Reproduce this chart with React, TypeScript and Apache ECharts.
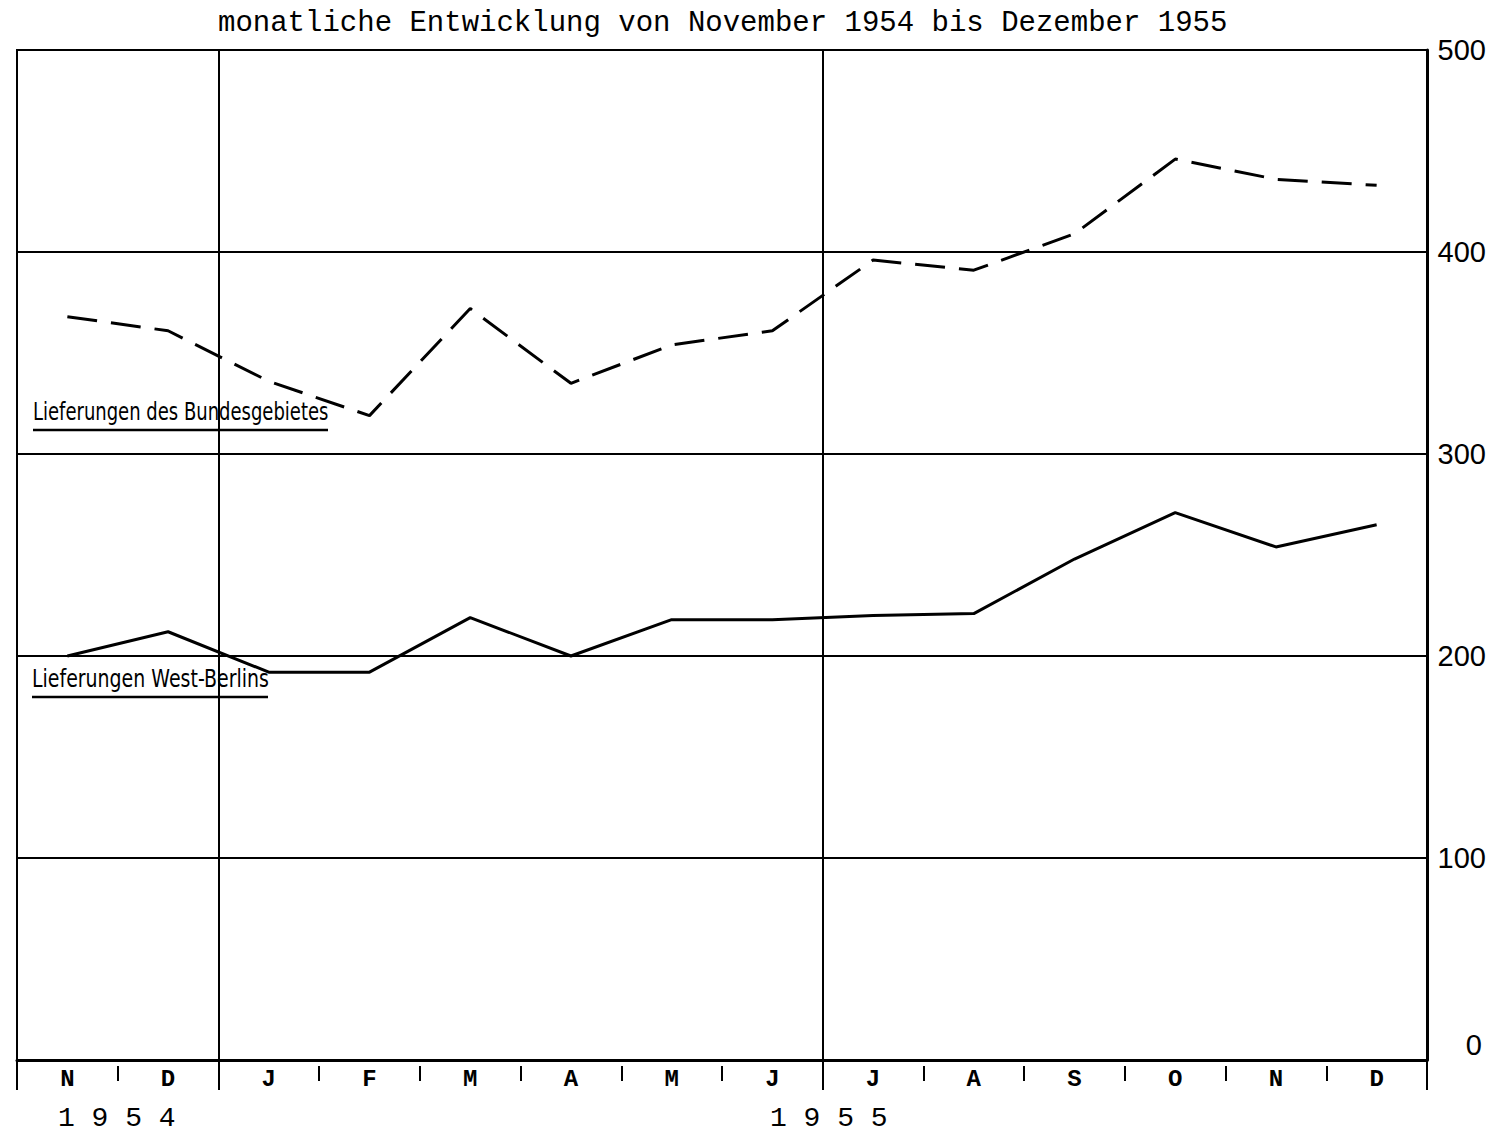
import React, { useEffect, useRef } from "react";
import * as echarts from "echarts";

const monthKeys = ["N54", "D54", "J55", "F55", "M55", "A55", "M55b", "J55b", "J55c", "A55b", "S55", "O55", "N55", "D55"];
const bundesgebiet = [368, 361, 336, 319, 372, 335, 354, 361, 396, 391, 409, 446, 436, 433];
const westBerlin = [200, 212, 192, 192, 219, 200, 218, 218, 220, 221, 248, 271, 254, 265];
const yTicks = { min: 0, max: 500, interval: 100 };
const titleText = "monatliche Entwicklung von November 1954 bis Dezember 1955";
const labelBund = "Lieferungen des Bundesgebietes";
const labelBerlin = "Lieferungen West-Berlins";
const yearLabels = ["1 9 5 4", "1 9 5 5"];
const longTickIdx = [0, 2, 8, 14];
const yearSplitIdx = [2, 8];

export default function App() {
  const ref = useRef<HTMLDivElement>(null);
  useEffect(() => {
    if (!ref.current) return;
    const chart = echarts.init(ref.current, null, { renderer: "svg" });
    const mono = "Liberation Mono";
    const narrow = "DejaVu Sans";
    chart.setOption({
      animation: false,
      backgroundColor: "#ffffff",
      title: {
        text: titleText,
        left: 213,
        top: 4,
        textStyle: { fontFamily: mono, fontSize: 29, fontWeight: "normal", color: "#000" },
      },
      grid: {
        left: 17,
        right: 68,
        top: 50,
        bottom: 74,
        show: true,
        borderColor: "#000",
        borderWidth: 2,
        backgroundColor: "transparent",
      },
      xAxis: [
        {
          type: "category",
          data: monthKeys,
          boundaryGap: true,
          position: "bottom",
          axisLine: { show: true, lineStyle: { color: "#000", width: 3 } },
          axisTick: {
            show: true,
            length: 30,
            lineStyle: { color: "#000", width: 2 },
            interval: (i: number) => longTickIdx.includes(i),
          },
          axisLabel: { show: false },
          splitLine: {
            show: true,
            interval: (i: number) => yearSplitIdx.includes(i),
            lineStyle: { color: "#000", width: 2 },
          },
        },
        {
          type: "category",
          data: monthKeys,
          boundaryGap: true,
          position: "bottom",
          offset: 6,
          axisLine: { show: false },
          axisTick: { show: true, length: 15, interval: 0, lineStyle: { color: "#000", width: 2 } },
          axisLabel: {
            show: true,
            interval: 0,
            margin: 1,
            formatter: (v: string) => v.charAt(0),
            fontFamily: mono,
            fontWeight: "bold",
            fontSize: 24,
            color: "#000",
          },
          splitLine: { show: false },
        },
      ],
      yAxis: {
        type: "value",
        position: "right",
        min: yTicks.min,
        max: yTicks.max,
        interval: yTicks.interval,
        axisLine: { show: true, lineStyle: { color: "#000", width: 3 } },
        axisTick: { show: false },
        splitLine: { show: true, lineStyle: { color: "#000", width: 2 } },
        axisLabel: {
          margin: 59,
          align: "right",
          fontFamily: "Liberation Sans",
          fontSize: 29,
          color: "#000",
          formatter: (v: number) => (v === 0 ? "{z|0}" : String(v)),
          rich: { z: { fontFamily: "Liberation Sans", fontSize: 29, color: "#000", padding: [0, 4, 30, 0] } },
        },
      },
      series: [
        {
          name: labelBund,
          type: "line",
          xAxisIndex: 0,
          yAxisIndex: 0,
          data: bundesgebiet,
          symbol: "none",
          lineStyle: { color: "#000", width: 3, type: [30, 14] },
        },
        {
          name: labelBerlin,
          type: "line",
          xAxisIndex: 0,
          yAxisIndex: 0,
          data: westBerlin,
          symbol: "none",
          lineStyle: { color: "#000", width: 3, type: "solid" },
        },
      ],
      graphic: [
        {
          type: "text",
          x: 33,
          y: 400,
          scaleX: 0.75,
          style: { text: labelBund, fontFamily: narrow, fontSize: 24, fill: "#000" },
        },
        { type: "line", shape: { x1: 33, y1: 430, x2: 328, y2: 430 }, style: { stroke: "#000", lineWidth: 2.5 } },
        {
          type: "text",
          x: 32,
          y: 667,
          scaleX: 0.79,
          style: { text: labelBerlin, fontFamily: narrow, fontSize: 24, fill: "#000" },
        },
        { type: "line", shape: { x1: 32, y1: 697, x2: 268, y2: 697 }, style: { stroke: "#000", lineWidth: 2.5 } },
        {
          type: "text",
          x: 58,
          y: 1104,
          style: { text: yearLabels[0], fontFamily: mono, fontSize: 28, fill: "#000" },
        },
        {
          type: "text",
          x: 770,
          y: 1104,
          style: { text: yearLabels[1], fontFamily: mono, fontSize: 28, fill: "#000" },
        },
      ],
    });
    return () => chart.dispose();
  }, []);
  return (
    <div
      ref={ref}
      style={{ position: "absolute", left: 0, top: 0, width: 1495, height: 1134, background: "#fff" }}
    />
  );
}
